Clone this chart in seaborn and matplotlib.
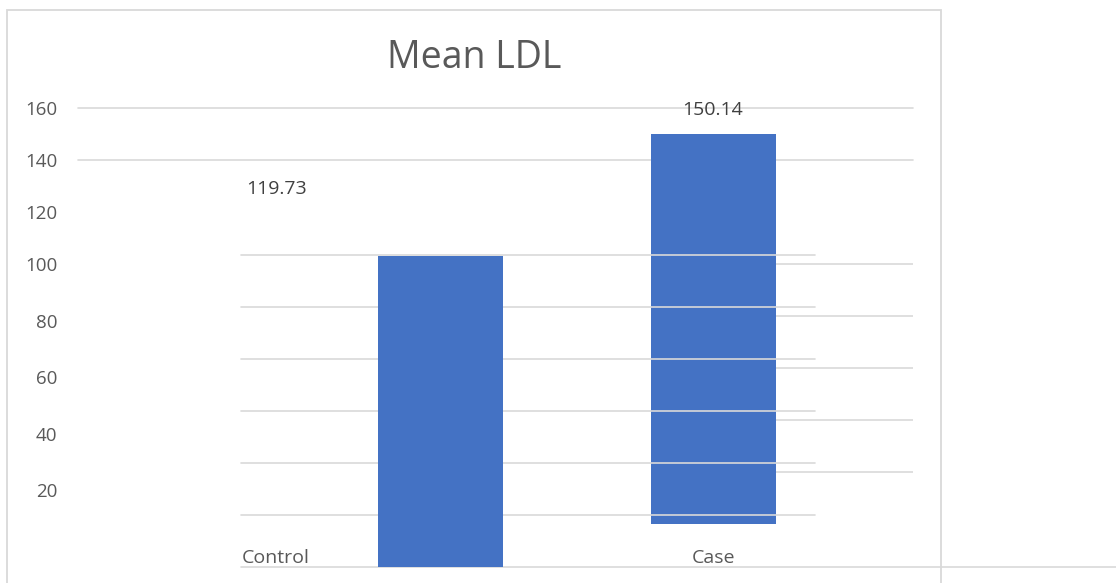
import matplotlib
matplotlib.use("Agg")
import matplotlib.pyplot as plt
import seaborn as sns
from matplotlib.patches import Rectangle

sns.set_theme(style="white")
plt.rcParams['font.family'] = ['Open Sans', 'DejaVu Sans']

# ---- data ----
categories = ["Control", "Case"]
values = [119.73, 150.14]
title = "Mean LDL"
upper_ticks = [100, 120, 140, 160]
lower_ticks = [20, 40, 60, 80]
grid_full = [140, 160]
grid_right = [20, 40, 60, 80, 100]
grid_shift = [0, 20, 40, 60, 80, 100, 120]

BAR = "#4472C4"
GRID = "#D9D9D9"
TXT = "#595959"

W, H = 1116, 583
fig = plt.figure(figsize=(W / 100, H / 100), dpi=100)


def px_axes(l, t, r, b):
    return fig.add_axes([l / W, 1 - b / H, (r - l) / W, (b - t) / H])


def clean(ax):
    ax.set_facecolor("none")
    for s in ax.spines.values():
        s.set_visible(False)
    ax.tick_params(length=0)


# outer chart frame
fig.patches.append(Rectangle((7 / W, -0.05), (941 - 7) / W, 1 - 10 / H + 0.05,
                             transform=fig.transFigure, fill=False,
                             edgecolor=GRID, lw=1.3, zorder=0))

unit = 437.0  # px per category step
scale = 2.6   # px per value unit

# ---- main layer (B) ----
axB = px_axes(78, 524 - 160 * scale, 913, 524)
clean(axB)
axB.set_zorder(1)
sns.barplot(x=[categories[1]], y=[values[1]], order=categories, color=BAR,
            saturation=1, width=125 / unit, ax=axB, zorder=2, linewidth=0)
axB.set_xlim(-(276 - 78) / unit, (913 - 276) / unit)
axB.set_ylim(0, 160)
for v in grid_full:
    axB.axhline(v, color=GRID, lw=1.2, zorder=0, clip_on=False)
for v in grid_right:
    axB.axhline(v, xmin=(776 - 78) / 835, xmax=1, color=GRID, lw=1.2, zorder=0)
axB.set_yticks(upper_ticks)
axB.set_yticklabels([str(t) for t in upper_ticks], color=TXT, fontsize=13.5)
axB.tick_params(axis="y", pad=15)
axB.tick_params(axis="x", pad=18)
axB.set_xticks(range(len(categories)))
axB.set_xticklabels(categories, color=TXT, fontsize=14)
axB.set_xlabel("")
axB.set_ylabel("")
for i, v in enumerate(values):
    axB.annotate(f"{v:.2f}", (i, v), xytext=(0, 17), textcoords="offset points",
                 ha="center", va="center", color="#404040", fontsize=14)

# ---- shifted layer (A) ----
axA = px_axes(241, 567 - 120 * scale, 815, 567)
clean(axA)
axA.set_zorder(2)
for v in grid_shift:
    xmax = (W - 241) / (815 - 241) if v == 0 else 1
    axA.axhline(v, xmin=0, xmax=xmax, color=GRID, lw=1.2, zorder=0, clip_on=False)
sns.barplot(x=[categories[0]], y=[values[0]], order=categories, color=BAR,
            saturation=1, width=125 / unit, ax=axA, zorder=3, linewidth=0)
axA.set_xlim(-(440.5 - 241) / unit, (815 - 440.5) / unit)
axA.set_ylim(0, 120)
axA.set_xticks([])
axA.set_yticks([])
axA.set_xlabel("")
axA.set_ylabel("")

# ---- lower tick labels layer (C) ----
axC = px_axes(78, 264, 913, 547)
clean(axC)
axC.set_ylim(0, 100)
axC.set_xticks([])
axC.set_yticks(lower_ticks)
axC.set_yticklabels([str(t) for t in lower_ticks], color=TXT, fontsize=13.5)
axC.tick_params(axis="y", pad=15)

fig.text(474 / W, 1 - 58 / H, title, ha="center", va="center",
         color=TXT, fontsize=27)

fig.savefig("out.png", dpi=100, facecolor="white")
